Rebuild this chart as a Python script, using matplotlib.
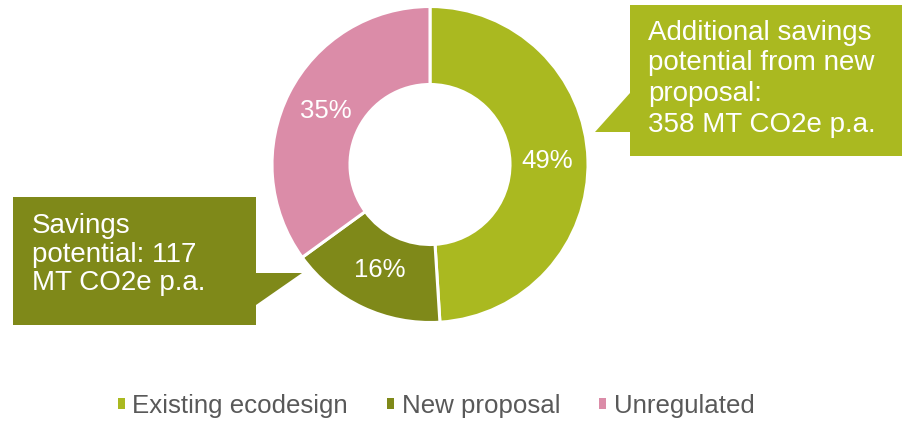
import matplotlib
matplotlib.use('Agg')
import matplotlib.pyplot as plt
from matplotlib.patches import Polygon, Patch

plt.rcParams['font.family'] = ['Liberation Sans', 'DejaVu Sans']

categories = ['Existing ecodesign', 'New proposal', 'Unregulated']
shares = [49, 16, 35]
colors = ['#AAB920', '#7F8919', '#DB8CA8']

right_note = ['Additional savings', 'potential from new', 'proposal:', '358 MT CO2e p.a.']
left_note = ['Savings', 'potential: 117', 'MT CO2e p.a.']

W, H = 902, 421
fig = plt.figure(figsize=(W / 100, H / 100), dpi=100)
ax = fig.add_axes([0, 0, 1, 1])


def flip(pts):
    # pixel coords measured from the top -> axes coords
    return [(x, H - y) for x, y in pts]


wedges, _, pct_texts = ax.pie(
    shares, colors=colors, startangle=90, counterclock=False,
    radius=158, center=(430, H - 164.5),
    autopct='%d%%', pctdistance=0.74,
    wedgeprops=dict(width=78, edgecolor='white', linewidth=2.2),
    textprops=dict(color='white', fontsize=18.5))

ax.set_xlim(0, W)
ax.set_ylim(0, H)
ax.set_aspect('equal')
ax.axis('off')

# callout on the right, pointing at the existing ecodesign wedge
box_r = flip([(630, 5), (902, 5), (902, 156), (630, 156),
              (630, 132), (595, 132), (630, 93)])
ax.add_patch(Polygon(box_r, closed=True, facecolor=colors[0], edgecolor='none'))
for i, line in enumerate(right_note):
    ax.text(648, H - (40 + i * 30.5), line, color='white', fontsize=20,
            ha='left', va='baseline')

# callout on the left, pointing at the new proposal wedge
box_l = flip([(13, 197), (256, 197), (256, 273), (302, 273),
              (256, 305), (256, 325), (13, 325)])
ax.add_patch(Polygon(box_l, closed=True, facecolor=colors[1], edgecolor='none'))
for i, line in enumerate(left_note):
    ax.text(32, H - (233 + i * 28.5), line, color='white', fontsize=20,
            ha='left', va='baseline')

handles = [Patch(facecolor=c, edgecolor='none', label=n) for c, n in zip(colors, categories)]
leg = fig.legend(handles=handles, loc='center', bbox_to_anchor=(436 / W, (H - 406) / H),
                 ncol=3, frameon=False, fontsize=18.6, handlelength=0.27, handleheight=0.27,
                 handletextpad=0.3, columnspacing=1.5, labelcolor='#595959')

fig.savefig('out.png', dpi=100, facecolor='white')
